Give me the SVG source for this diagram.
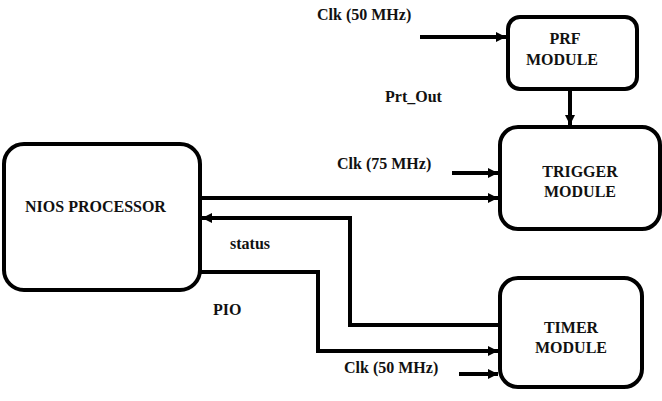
<svg xmlns="http://www.w3.org/2000/svg" width="662" height="401" viewBox="0 0 662 401">
<defs>
<marker id="ah" markerWidth="10" markerHeight="10" refX="10" refY="5" orient="auto" markerUnits="userSpaceOnUse" viewBox="0 0 10 10">
<path d="M0,0 L10,5 L0,10 Z" fill="#000"/>
</marker>
</defs>
<style>
.box{fill:#fff;stroke:#000;stroke-width:4}
.ln{fill:none;stroke:#000;stroke-width:4}
.c{text-anchor:middle}
</style>
<rect width="662" height="401" fill="#fff"/>
<g id="connectors">
<path class="ln" d="M420,37 H506" marker-end="url(#ah)"/>
<path class="ln" d="M570,88 V125" marker-end="url(#ah)"/>
<path class="ln" d="M452,173 H498" marker-end="url(#ah)"/>
<path class="ln" d="M200,198 H498" marker-end="url(#ah)"/>
<path class="ln" d="M500,325 H350 V218 H202" marker-end="url(#ah)"/>
<path class="ln" d="M199,272 H318 V351 H498" marker-end="url(#ah)"/>
<path class="ln" d="M459,374 H498" marker-end="url(#ah)"/>
</g>
<g font-family="'Liberation Serif', 'Times New Roman', 'DejaVu Serif', serif" font-weight="bold" font-size="16" fill="#111">
<g id="nios">
<rect class="box" x="4" y="144" width="196" height="146" rx="20"/>
<text x="25" y="212">NIOS PROCESSOR</text>
</g>
<g id="prf">
<rect class="box" x="508" y="17" width="129" height="72" rx="12"/>
<text class="c" x="565" y="44">PRF</text>
<text class="c" x="562" y="65">MODULE</text>
</g>
<g id="trigger">
<rect class="box" x="500" y="127" width="160" height="102" rx="18"/>
<text class="c" x="580" y="177">TRIGGER</text>
<text class="c" x="580" y="197">MODULE</text>
</g>
<g id="timer">
<rect class="box" x="500" y="278" width="142" height="109" rx="18"/>
<text class="c" x="571" y="333">TIMER</text>
<text class="c" x="571" y="353">MODULE</text>
</g>
<g id="labels">
<text x="317" y="20">Clk (50 MHz)</text>
<text x="385" y="102">Prt_Out</text>
<text x="337" y="169">Clk (75 MHz)</text>
<text x="230" y="249">status</text>
<text x="213" y="315">PIO</text>
<text x="344" y="373">Clk (50 MHz)</text>
</g>
</g>
</svg>
